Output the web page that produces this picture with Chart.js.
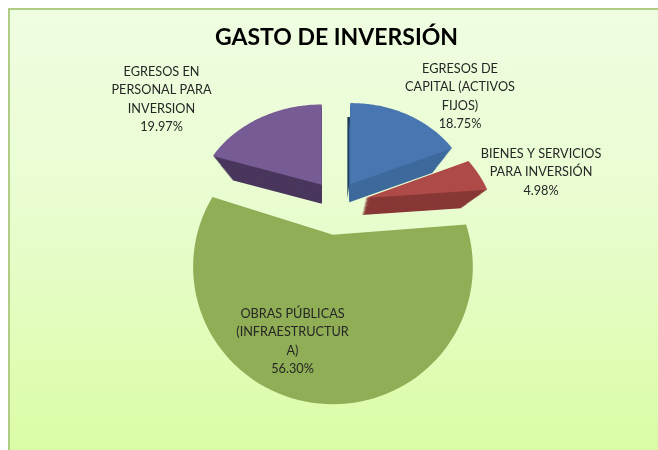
<!DOCTYPE html>
<html>
<head>
<meta charset="utf-8">
<script src="https://cdn.jsdelivr.net/npm/chart.js@4"></script>
<style>
html,body{margin:0;padding:0;width:658px;height:450px;background:#fff;overflow:hidden}
#frame{position:absolute;left:8px;top:8px;width:650px;height:442px;box-sizing:border-box;
border-left:2px solid #b0cc85;border-top:2px solid #b0cc85;
background:linear-gradient(180deg,#effde1 0%,#e9fdd0 45%,#dbfca6 100%)}
#wrap{position:absolute;left:0;top:0;width:658px;height:450px}
</style>
</head>
<body>
<div id="frame"></div>
<div id="wrap"><canvas id="c" width="658" height="450"></canvas></div>
<script>
const titleText = "GASTO DE INVERSIÓN";
const categories = [
  ["EGRESOS DE","CAPITAL (ACTIVOS","FIJOS)"],
  ["BIENES Y SERVICIOS","PARA INVERSIÓN"],
  ["OBRAS PÚBLICAS","(INFRAESTRUCTUR","A)"],
  ["EGRESOS EN","PERSONAL PARA","INVERSION"]
];
const percentages = [18.75, 4.98, 56.30, 19.97];

// styles
const topColors  = ["#4876b0", "#ae4a47", "#8fae56", "#775b94"];
const sideColors = ["#3e6a9c", "#883836", "#8fae56", "#4a375d"];
const explode    = [25, 30, 30, 25];
// projection of each exploded slice: matrix a,b,c,d, then side-wall shift
const views = [
  {a:1.20, b:-0.01, c:0,    d:1.00, sx:-1, sy:18, backColor:"#1f3a5c", backX:-3, backY:14},
  {a:1.25, b:0,     c:0.09, d:1.05, sx:-4, sy:17},
  {a:1.36, b:0,     c:0,    d:1.30, sx:0,  sy:0},
  {a:1.23, b:0,     c:0,    d:0.99, sx:0,  sy:19}
];
const perspective = 0.233, wallShrink = 0.18;
const labelAnchors = [[460,69],[541,154],[292.5,314],[161.5,72]];
const labelLeading = 18.3;

const pct = v => v.toFixed(2) + "%";

// Pie slices drawn in tilted perspective, from the angles the library computes
Chart.ArcElement.prototype.draw = function(ctx){
  const p = this.getProps(['x','y','startAngle','endAngle','outerRadius']);
  const v = views[this.sliceIndex];
  const off = this.options.offset || 0;
  const mid = (p.startAngle + p.endAngle) / 2;
  const ax = p.x + Math.cos(mid) * off, ay = p.y + Math.sin(mid) * off;
  const R = p.outerRadius;
  const trace = (t, dx, dy, sweep) => {
    const s = 1 - wallShrink * t, ox = ax + v.sx * t + dx, oy = ay + v.sy * t + dy;
    ctx.beginPath();
    ctx.moveTo(ox, oy);
    const n = 90;
    for (let i = 0; i <= n; i++) {
      const th = p.startAngle + (p.endAngle - p.startAngle) * sweep * i / n;
      const u = Math.cos(th), w = Math.sin(th), q = 1 - perspective * w;
      ctx.lineTo(ox + s * R * (v.a * u + v.c * w) / q, oy + s * R * (v.b * u + v.d * w) / q);
    }
    ctx.closePath();
  };
  ctx.save();
  if (v.backColor) {
    ctx.fillStyle = v.backColor;
    trace(0, v.backX, v.backY, 0.1);
    ctx.fill();
  }
  if (v.sy) {
    ctx.fillStyle = sideColors[this.sliceIndex];
    for (let k = 24; k > 0; k--) { trace(k / 24, 0, 0, 1); ctx.fill(); }
  }
  trace(0, 0, 0, 1);
  ctx.fillStyle = this.options.backgroundColor;
  ctx.fill();
  ctx.restore();
};

const sliceTexts = {
  id: 'sliceTexts',
  beforeDatasetDraw(chart){
    chart.getDatasetMeta(0).data.forEach((arc,i)=>{ arc.sliceIndex = i; });
  },
  afterDatasetsDraw(chart){
    const ctx = chart.ctx;
    ctx.save();
    ctx.font = '12.7px Lato, "Open Sans", sans-serif';
    ctx.fillStyle = '#262626';
    ctx.textAlign = 'center';
    ctx.textBaseline = 'middle';
    categories.forEach((lines,i)=>{
      const [x,y] = labelAnchors[i];
      lines.concat(pct(percentages[i])).forEach((t,j)=>ctx.fillText(t, x, y + j * labelLeading));
    });
    ctx.restore();
  }
};

new Chart(document.getElementById('c'), {
  type: 'pie',
  plugins: [sliceTexts],
  data: {
    labels: categories.map(l => l.join(' ')),
    datasets: [{
      data: percentages,
      backgroundColor: topColors,
      borderWidth: 0,
      offset: explode,
      radius: 100
    }]
  },
  options: {
    responsive: false,
    animation: false,
    layout: { padding: { left: 15, right: 0, top: 0, bottom: 91.6 } },
    plugins: {
      legend: { display: false },
      tooltip: { enabled: false },
      title: {
        display: true,
        text: titleText,
        color: '#000',
        font: { family: 'Lato', size: 23, weight: 'bold', lineHeight: 1.2 },
        padding: { top: 24, bottom: 0 }
      }
    }
  }
});
</script>
</body>
</html>
